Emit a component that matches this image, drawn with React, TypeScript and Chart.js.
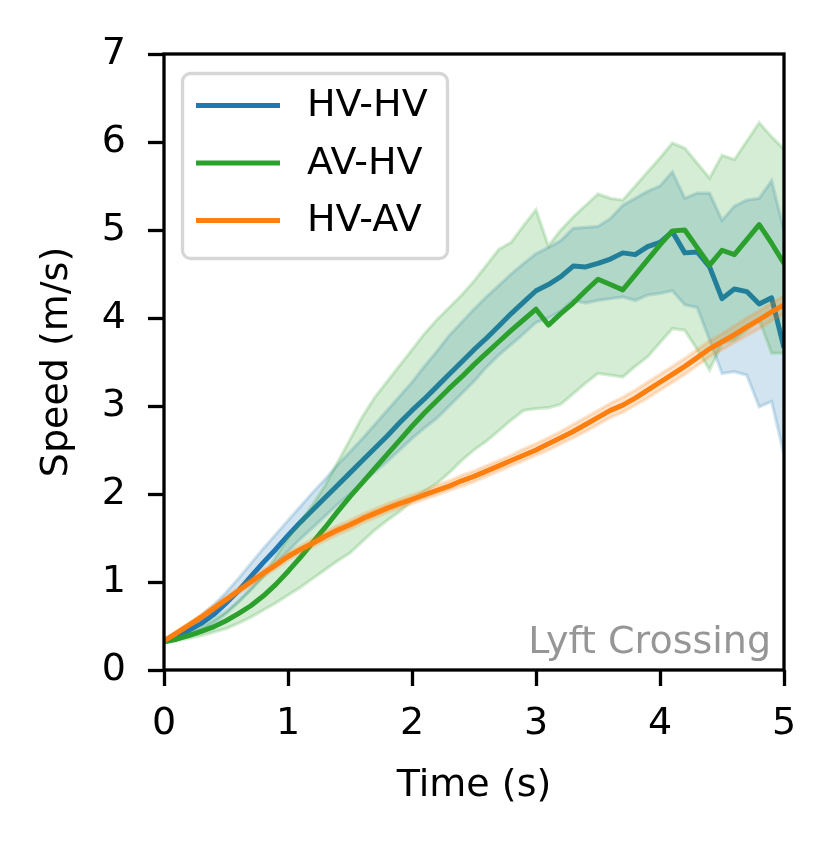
import { useEffect, useRef } from "react"
import { Chart, registerables } from "chart.js"

Chart.register(...registerables)

// time axis (s)
const time = [
  0, 0.1, 0.2, 0.3, 0.4, 0.5, 0.6, 0.7, 0.8, 0.9,
  1.0, 1.1, 1.2, 1.3, 1.4, 1.5, 1.6, 1.7, 1.8, 1.9,
  2.0, 2.1, 2.2, 2.3, 2.4, 2.5, 2.6, 2.7, 2.8, 2.9,
  3.0, 3.1, 3.2, 3.3, 3.4, 3.5, 3.6, 3.7, 3.8, 3.9,
  4.0, 4.1, 4.2, 4.3, 4.4, 4.5, 4.6, 4.7, 4.8, 4.9,
  5.0,
]

// HV-HV
const hvhvMean = [
  0.33, 0.38, 0.45, 0.53, 0.63, 0.76, 0.9, 1.06, 1.22, 1.37,
  1.53, 1.68, 1.82, 1.96, 2.1, 2.24, 2.38, 2.52, 2.66, 2.81,
  2.95, 3.08, 3.22, 3.36, 3.5, 3.64, 3.77, 3.91, 4.05, 4.18,
  4.31, 4.38, 4.47, 4.59, 4.58, 4.62, 4.67, 4.74, 4.72, 4.81,
  4.86, 4.98, 4.74, 4.75, 4.58, 4.22, 4.33, 4.3, 4.16, 4.23,
  3.66,
]
const hvhvHi = [
  0.35, 0.42, 0.51, 0.62, 0.74, 0.88, 1.04, 1.21, 1.38, 1.54,
  1.7, 1.86, 2.02, 2.17, 2.33, 2.48, 2.63, 2.79, 2.95, 3.11,
  3.27, 3.45, 3.62, 3.8, 3.95, 4.1, 4.24, 4.37, 4.5, 4.62,
  4.73, 4.8, 4.88, 5.02, 5.03, 5.04, 5.13, 5.28, 5.36, 5.44,
  5.5, 5.66, 5.36, 5.42, 5.42, 5.11, 5.27, 5.34, 5.36, 5.56,
  5.0,
]
const hvhvLo = [
  0.31, 0.35, 0.4, 0.45, 0.53, 0.64, 0.77, 0.91, 1.06, 1.2,
  1.35, 1.49, 1.62, 1.75, 1.88, 2.0, 2.13, 2.25, 2.37, 2.5,
  2.63, 2.75, 2.86, 3.0, 3.14, 3.28, 3.44, 3.58, 3.7, 3.82,
  3.95, 4.0, 4.08, 4.2, 4.17, 4.2, 4.22, 4.24, 4.2, 4.26,
  4.28, 4.31, 4.15, 4.12, 3.75, 3.37, 3.39, 3.35, 2.99, 3.05,
  2.45,
]

// AV-HV
const avhvMean = [
  0.32, 0.35, 0.39, 0.44, 0.49, 0.56, 0.64, 0.73, 0.84, 0.97,
  1.12, 1.28, 1.45, 1.62, 1.8, 1.97, 2.13, 2.29, 2.45, 2.61,
  2.77, 2.92, 3.06, 3.2, 3.33, 3.47, 3.6, 3.73, 3.86, 3.98,
  4.1, 3.92, 4.05, 4.17, 4.31, 4.44, 4.38, 4.32, 4.49, 4.66,
  4.83, 4.99, 5.0, 4.8, 4.6, 4.77, 4.72, 4.89, 5.06, 4.85,
  4.62,
]
const avhvHi = [
  0.33, 0.37, 0.42, 0.49, 0.57, 0.66, 0.78, 0.92, 1.07, 1.28,
  1.5, 1.68, 1.88, 2.1, 2.36, 2.62, 2.88, 3.1, 3.28, 3.46,
  3.64, 3.82, 3.98, 4.12, 4.26, 4.42, 4.6, 4.78, 4.86, 5.05,
  5.23, 4.82, 5.0, 5.15, 5.28, 5.41, 5.36, 5.34, 5.5, 5.66,
  5.82, 5.99, 5.93, 5.76, 5.59, 5.85, 5.8, 6.01, 6.22, 6.06,
  5.92,
]
const avhvLo = [
  0.31, 0.33, 0.36, 0.39, 0.43, 0.47, 0.53, 0.6, 0.68, 0.76,
  0.85, 0.94, 1.04, 1.14, 1.24, 1.33, 1.46, 1.59, 1.7, 1.8,
  1.92, 2.03, 2.12, 2.24, 2.38, 2.5, 2.6, 2.72, 2.84, 2.95,
  2.97, 2.98, 3.02, 3.14, 3.26, 3.37, 3.35, 3.33, 3.45, 3.56,
  3.72, 3.88, 3.86, 3.64, 3.41, 3.71, 3.75, 3.86, 3.98, 3.6,
  3.6,
]

// HV-AV
const hvavMean = [
  0.33, 0.42, 0.51, 0.6, 0.7, 0.8, 0.9, 1.0, 1.1, 1.19,
  1.29, 1.37, 1.44, 1.52, 1.59, 1.65, 1.72, 1.78, 1.84, 1.89,
  1.94, 1.99, 2.04, 2.09, 2.15, 2.2, 2.26, 2.32, 2.38, 2.44,
  2.5, 2.57, 2.64, 2.71, 2.79, 2.87, 2.95, 3.01, 3.09, 3.18,
  3.27, 3.36, 3.45, 3.55, 3.65, 3.73, 3.81, 3.9, 3.98, 4.07,
  4.15,
]
const hvavHi = [
  0.34, 0.44, 0.53, 0.63, 0.73, 0.83, 0.93, 1.04, 1.14, 1.23,
  1.33, 1.41, 1.49, 1.57, 1.64, 1.7, 1.77, 1.83, 1.89, 1.94,
  1.99, 2.04, 2.1, 2.15, 2.21, 2.26, 2.32, 2.38, 2.44, 2.51,
  2.57, 2.64, 2.71, 2.79, 2.87, 2.95, 3.03, 3.1, 3.18, 3.27,
  3.36, 3.45, 3.54, 3.64, 3.74, 3.82, 3.91, 4.0, 4.08, 4.17,
  4.25,
]
const hvavLo = [
  0.32, 0.4, 0.49, 0.57, 0.67, 0.77, 0.87, 0.96, 1.06, 1.15,
  1.25, 1.33, 1.4, 1.47, 1.54, 1.6, 1.67, 1.73, 1.79, 1.84,
  1.89, 1.94, 1.99, 2.04, 2.09, 2.14, 2.2, 2.26, 2.32, 2.38,
  2.44, 2.5, 2.57, 2.64, 2.71, 2.79, 2.87, 2.93, 3.01, 3.09,
  3.18, 3.27, 3.36, 3.46, 3.56, 3.64, 3.72, 3.8, 3.88, 3.97,
  4.05,
]

const seriesNames = ["HV-HV", "AV-HV", "HV-AV"]
const seriesColors = ["#1f77b4", "#2ca02c", "#ff7f0e"]
const bandColors = ["rgba(31,119,180,0.2)", "rgba(44,160,44,0.2)", "rgba(255,127,14,0.2)"]
const note = "Lyft Crossing"

const FONT = "'DejaVu Sans', sans-serif"

const pts = (vals: number[]) => vals.map((v, i) => ({ x: time[i], y: v }))

// spines all round, the note and the boxed legend
const overlay = {
  id: "overlay",
  afterDatasetsDraw(chart: any) {
    const { ctx, chartArea: a } = chart
    ctx.save()
    ctx.strokeStyle = "#000"
    ctx.lineWidth = 3.3
    ctx.strokeRect(a.left, a.top, a.right - a.left, a.bottom - a.top)

    ctx.font = `38px ${FONT}`
    ctx.fillStyle = "#969696"
    ctx.textAlign = "right"
    ctx.textBaseline = "alphabetic"
    ctx.fillText(note, a.right - 13, a.bottom - 17)

    // legend
    ctx.beginPath()
    ctx.roundRect(a.left + 18.5, a.top + 19.5, 265, 185, 8)
    ctx.fillStyle = "rgba(255,255,255,0.8)"
    ctx.fill()
    ctx.strokeStyle = "#d6d6d6"
    ctx.lineWidth = 3.3
    ctx.stroke()

    ctx.textAlign = "left"
    ctx.textBaseline = "middle"
    seriesNames.forEach((name, i) => {
      const y = a.top + 51.5 + i * 57.5
      ctx.beginPath()
      ctx.moveTo(a.left + 32, y)
      ctx.lineTo(a.left + 116, y)
      ctx.strokeStyle = seriesColors[i]
      ctx.lineWidth = 5
      ctx.stroke()
      ctx.fillStyle = "#000"
      ctx.fillText(name, a.left + 143, y + 1)
    })
    ctx.restore()
  },
}

export default function App() {
  const chartRef = useRef<HTMLCanvasElement>(null)

  useEffect(() => {
    if (!chartRef.current) return
    const ctx = chartRef.current.getContext("2d")
    if (!ctx) return

    const groups = [
      [hvhvHi, hvhvLo, hvhvMean],
      [avhvHi, avhvLo, avhvMean],
      [hvavHi, hvavLo, hvavMean],
    ]
    const datasets: any[] = []
    groups.forEach(([hi, lo, mean], g) => {
      const base = 10 - g * 3 // later groups are drawn on top
      datasets.push({
        data: pts(hi),
        borderColor: bandColors[g],
        backgroundColor: bandColors[g],
        borderWidth: 3.3,
        pointRadius: 0,
        fill: "+1",
        order: base,
      })
      datasets.push({
        data: pts(lo),
        borderColor: bandColors[g],
        borderWidth: 3.3,
        pointRadius: 0,
        fill: false,
        order: base,
      })
      datasets.push({
        label: seriesNames[g],
        data: pts(mean),
        borderColor: seriesColors[g],
        borderWidth: 5,
        borderJoinStyle: "round",
        pointRadius: 0,
        fill: false,
        order: base - 1,
      })
    })

    const tickGrid = {
      drawOnChartArea: false,
      drawTicks: true,
      tickLength: 16,
      tickWidth: 3.3,
      tickColor: "#000",
    }

    const chart = new Chart(ctx, {
      type: "line",
      data: { datasets },
      options: {
        responsive: false,
        animation: false,
        layout: { padding: { left: 0, top: 54, right: 52, bottom: 39 } },
        plugins: {
          legend: { display: false },
          tooltip: { enabled: false },
        },
        scales: {
          x: {
            type: "linear",
            min: 0,
            max: 5,
            grid: tickGrid,
            border: { display: false },
            ticks: {
              stepSize: 1,
              padding: 15,
              color: "#000",
              font: { family: FONT, size: 38 },
            },
            title: {
              display: true,
              text: "Time (s)",
              color: "#000",
              font: { family: FONT, size: 38 },
              padding: { top: 0, bottom: 0 },
            },
            afterFit: (scale: any) => {
              scale.height = 139
            },
          },
          y: {
            min: 0,
            max: 7,
            grid: tickGrid,
            border: { display: false },
            ticks: {
              stepSize: 1,
              padding: 22,
              color: "#000",
              font: { family: FONT, size: 38 },
            },
            title: {
              display: true,
              text: "Speed (m/s)",
              color: "#000",
              font: { family: FONT, size: 38 },
              padding: { top: 34, bottom: 0 },
            },
            afterFit: (scale: any) => {
              scale.width = 164
            },
          },
        },
      },
      plugins: [overlay],
    })

    return () => {
      chart.destroy()
    }
  }, [])

  return (
    <div style={{ position: "absolute", left: 0, top: 0, width: 836, height: 848, background: "#fff" }}>
      <canvas ref={chartRef} width={836} height={848} style={{ display: "block" }} />
    </div>
  )
}
